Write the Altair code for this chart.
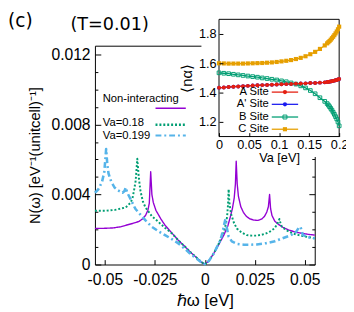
import altair as alt
import pandas as pd

FONT = "Liberation Sans"

# ---------------- main panel data (hbar*omega [eV], N(omega)) ----------------
w_non = [-0.055, -0.050, -0.046, -0.042, -0.0396, -0.036, -0.033, -0.031, -0.0297, -0.0285,
         -0.0278, -0.0271, -0.0265, -0.0258, -0.0245, -0.022, -0.0199, -0.0165, -0.0134, -0.010,
         -0.0069, -0.004, -0.0015, 0.0, 0.002, 0.0046, 0.007, 0.0095, 0.0115, 0.0127,
         0.0138, 0.0147, 0.0153, 0.0157, 0.0162, 0.0168, 0.018, 0.0193, 0.0208, 0.0225,
         0.0245, 0.0266, 0.0285, 0.0299, 0.031, 0.0318, 0.0324, 0.0329, 0.0336, 0.035,
         0.0364, 0.039, 0.0422, 0.0455, 0.0487, 0.052, 0.055]
n_non = [0.00206, 0.00207, 0.00209, 0.00216, 0.00224, 0.00235, 0.00246, 0.00262, 0.0028, 0.0031,
         0.0035, 0.0053, 0.0040, 0.00355, 0.0031, 0.0026, 0.00224, 0.0018, 0.0014, 0.00103,
         0.00067, 0.00038, 0.00012, 0.00002, 0.0002, 0.00067, 0.00115, 0.00168, 0.0022, 0.0027,
         0.0032, 0.0038, 0.0046, 0.0059, 0.0046, 0.0039, 0.0033, 0.00298, 0.00275, 0.00261,
         0.00254, 0.00252, 0.0026, 0.00276, 0.0030, 0.0033, 0.0040, 0.0032, 0.0028, 0.00248,
         0.00233, 0.00213, 0.00196, 0.00185, 0.00178, 0.00172, 0.00168]

w_18 = [-0.055, -0.050, -0.045, -0.0396, -0.0371, -0.0362, -0.0355, -0.0346, -0.0338, -0.0330,
        -0.0322, -0.031, -0.0297, -0.0265, -0.0232, -0.020, -0.0165, -0.0134, -0.010, -0.0069,
        -0.004, -0.0015, 0.0, 0.002, 0.0046, 0.007, 0.0095, 0.0105, 0.0111, 0.0116,
        0.0119, 0.0123, 0.0131, 0.0145, 0.016, 0.0185, 0.0209, 0.0235, 0.0258, 0.0285,
        0.0307, 0.0328, 0.0348, 0.0362, 0.0373, 0.038, 0.0386, 0.041, 0.0438, 0.047,
        0.0503, 0.055]
n_18 = [0.00307, 0.00307, 0.00312, 0.00326, 0.00354, 0.0038, 0.00419, 0.0048, 0.00604, 0.0049,
        0.00419, 0.0036, 0.00326, 0.00276, 0.00243, 0.0021, 0.00178, 0.0014, 0.00103, 0.00067,
        0.00038, 0.00012, 0.00002, 0.0002, 0.00067, 0.0012, 0.00187, 0.0023, 0.0027, 0.0034,
        0.0043, 0.0035, 0.0029, 0.0024, 0.00206, 0.00182, 0.00168, 0.00165, 0.00165, 0.0017,
        0.00178, 0.0019, 0.00206, 0.0023, 0.0026, 0.0023, 0.00215, 0.00195, 0.00178, 0.00168,
        0.0016, 0.0015]

w_199 = [-0.055, -0.0534, -0.0515, -0.0503, -0.0494, -0.0488, -0.0482, -0.0469, -0.0452, -0.0436,
         -0.0412, -0.0402, -0.0396, -0.0388, -0.0379, -0.0347, -0.0297, -0.0265, -0.0232, -0.0199,
         -0.0165, -0.0134, -0.010, -0.0069, -0.004, -0.0015, 0.0, 0.002, 0.0046, 0.0078,
         0.009, 0.0097, 0.0103, 0.011, 0.0119, 0.0135, 0.016, 0.0195, 0.0225, 0.026,
         0.0307, 0.035, 0.0389, 0.0425, 0.0454, 0.047, 0.0479, 0.049, 0.051, 0.055]
n_199 = [0.0041, 0.00428, 0.0047, 0.0053, 0.0066, 0.0057, 0.0052, 0.00475, 0.0044, 0.00425,
         0.0041, 0.0042, 0.0044, 0.0041, 0.0039, 0.00317, 0.00252, 0.00215, 0.0019, 0.00168,
         0.00145, 0.00122, 0.0009, 0.00057, 0.00033, 0.0001, 0.00002, 0.0002, 0.00065, 0.0014,
         0.0019, 0.0023, 0.0026, 0.0021, 0.0016, 0.00132, 0.00118, 0.00113, 0.00113, 0.00115,
         0.00122, 0.00133, 0.0015, 0.00165, 0.00182, 0.0021, 0.00215, 0.0017, 0.00158, 0.0015]

series_names = ["Non-interacting", "Va=0.18", "Va=0.199"]
series_colors = ["#9400D3", "#009E73", "#56B4E9"]

x_domain = [-0.055, 0.055]
y_domain = [0, 0.0125]
x_ticks = [-0.05, -0.025, 0, 0.025, 0.05]
y_ticks = [0, 0.004, 0.008, 0.012]
y_minor = [0, 0.001, 0.002, 0.003, 0.004, 0.005, 0.006, 0.007, 0.008, 0.009, 0.010, 0.011, 0.012]

# ---------------- inset data (Va [eV], <n_alpha>) ----------------
va = [0, 0.008, 0.016, 0.024, 0.032, 0.04, 0.048, 0.056, 0.064, 0.072, 0.08, 0.088, 0.096,
      0.104, 0.112, 0.12, 0.128, 0.136, 0.144, 0.152, 0.16, 0.168, 0.176, 0.18, 0.182, 0.184,
      0.186, 0.188, 0.19, 0.192, 0.194, 0.196, 0.198, 0.2]
n_A = [1.433, 1.435, 1.438, 1.440, 1.442, 1.444, 1.446, 1.448, 1.450, 1.451, 1.452, 1.454, 1.455,
       1.457, 1.458, 1.459, 1.461, 1.462, 1.463, 1.465, 1.466, 1.468, 1.470, 1.472, 1.473, 1.475,
       1.476, 1.478, 1.480, 1.482, 1.484, 1.486, 1.489, 1.493]
n_Ap = [1.433, 1.435, 1.438, 1.440, 1.442, 1.444, 1.446, 1.448, 1.450, 1.451, 1.452, 1.454, 1.455,
        1.457, 1.458, 1.459, 1.461, 1.462, 1.463, 1.465, 1.466, 1.468, 1.470, 1.472, 1.473, 1.475,
        1.476, 1.478, 1.480, 1.482, 1.484, 1.486, 1.489, 1.493]
n_B = [1.535, 1.532, 1.529, 1.525, 1.521, 1.517, 1.513, 1.509, 1.505, 1.500, 1.496, 1.491, 1.486,
       1.480, 1.474, 1.466, 1.458, 1.446, 1.432, 1.414, 1.392, 1.365, 1.340, 1.325, 1.315, 1.304,
       1.292, 1.280, 1.266, 1.252, 1.236, 1.220, 1.200, 1.173]
n_C = [1.600, 1.599, 1.598, 1.598, 1.598, 1.598, 1.599, 1.600, 1.601, 1.602, 1.604, 1.606, 1.609,
       1.613, 1.617, 1.622, 1.629, 1.637, 1.648, 1.662, 1.678, 1.698, 1.722, 1.736, 1.744, 1.752,
       1.761, 1.771, 1.781, 1.792, 1.804, 1.817, 1.832, 1.850]

site_names = ["A Site", "A' Site", "B Site", "C Site"]
site_colors = ["#E51E10", "#1A1AF0", "#009E73", "#E69F00"]
site_shapes = ["circle", "circle", "square", "square"]
site_filled = [True, True, False, True]

inset_x_domain = [0, 0.2]
inset_y_domain = [1.1, 1.9]
inset_x_ticks = [0, 0.05, 0.1, 0.15, 0.2]
inset_y_ticks = [1.2, 1.4, 1.6, 1.8]

# ---------------- layout (pixels) ----------------
W, H = 225, 224
INSET_L, INSET_R, INSET_T, INSET_B = 127, 250, -27, 93

df_main = pd.concat([
    pd.DataFrame({"w": w_non, "N": n_non, "series": series_names[0], "i": range(len(w_non))}),
    pd.DataFrame({"w": w_18, "N": n_18, "series": series_names[1], "i": range(len(w_18))}),
    pd.DataFrame({"w": w_199, "N": n_199, "series": series_names[2], "i": range(len(w_199))}),
], ignore_index=True)

site_values = [n_A, n_Ap, n_B, n_C]
df_inset = pd.concat([
    pd.DataFrame({"va": va, "n": vals, "site": s}) for s, vals in zip(site_names, site_values)
], ignore_index=True)

one = pd.DataFrame({"a": [0]})

xs = alt.Scale(domain=x_domain, nice=False, zero=False)
ys = alt.Scale(domain=y_domain, nice=False, zero=False)
ixs = alt.Scale(domain=inset_x_domain, range=[INSET_L, INSET_R], nice=False, zero=False)
iys = alt.Scale(domain=inset_y_domain, range=[INSET_B, INSET_T], nice=False, zero=False)

common_axis = dict(grid=False, labelFont=FONT, titleFont=FONT, labelColor="black",
                   titleColor="black", titleFontWeight="normal", labelFlush=False,
                   labelOverlap=False, tickColor="black")

major_test = "abs(datum.value * 250 - round(datum.value * 250)) < 0.01"

# main lines with labelled axes
lines_main = alt.Chart(df_main).mark_line(strokeCap="butt", strokeJoin="round").encode(
    x=alt.X("w:Q", scale=xs, axis=alt.Axis(
        orient="bottom", values=x_ticks, labelExpr="toString(datum.value)", ticks=False,
        tickSize=0, domain=False, labelFontSize=16, labelPadding=7, title="ℏω [eV]",
        titleFontSize=17, titlePadding=6, **common_axis)),
    y=alt.Y("N:Q", scale=ys, axis=alt.Axis(
        orient="left", values=y_ticks, labelExpr="toString(datum.value)", ticks=False,
        tickSize=0, domain=False, labelFontSize=16, labelPadding=5,
        title="N(ω) [eV⁻¹(unitcell)⁻¹]", titleFontSize=15, titlePadding=9, **common_axis)),
    color=alt.Color("series:N", scale=alt.Scale(domain=series_names, range=series_colors), legend=None),
    strokeDash=alt.StrokeDash("series:N", scale=alt.Scale(
        domain=series_names, range=[[1, 0], [2, 2], [6, 3, 2, 3]]), legend=None),
    strokeWidth=alt.StrokeWidth("series:N", scale=alt.Scale(
        domain=series_names, range=[1.4, 2.6, 2.0]), legend=None),
    order="i:Q",
)


def tick_layer(df, xf, yf, xscale, yscale, xaxis, yaxis):
    return alt.Chart(df).mark_point(opacity=0).encode(
        x=alt.X(xf, scale=xscale, axis=xaxis),
        y=alt.Y(yf, scale=yscale, axis=yaxis),
    )


tick_axis = dict(labels=False, domain=False, grid=False, title="", tickColor="black", ticks=True)

ticks_bottom = tick_layer(df_main, "w:Q", "N:Q", xs, ys,
                          alt.Axis(orient="top", offset=-H, values=x_ticks, tickSize=5, **tick_axis), None)
ticks_left = tick_layer(df_main, "w:Q", "N:Q", xs, ys, None,
                        alt.Axis(orient="right", offset=-W, values=y_minor,
                                 tickSize={"condition": {"test": major_test, "value": 6}, "value": 3},
                                 **tick_axis))
ticks_right = tick_layer(df_main, "w:Q", "N:Q", xs, ys, None,
                         alt.Axis(orient="left", offset=-W, values=y_minor,
                                  tickSize={"condition": {"test": major_test, "value": 6}, "value": 3},
                                  **tick_axis))

# main legend (text on the left, sample on the right)
leg_rows = [(55, 64), (79.5, 81), (92, 92)]
leg_dash = [[1, 0], [2, 2], [6, 3, 2, 3]]
leg_width = [1.4, 2.6, 2.0]
main_legend = []
for name, col, (ty, ly), dash, sw in zip(series_names, series_colors, leg_rows, leg_dash, leg_width):
    main_legend.append(alt.Chart(one).mark_text(
        align="left", baseline="middle", font=FONT, fontSize=11.5, color="black").encode(
        x=alt.value(8), y=alt.value(ty), text=alt.value(name)))
    main_legend.append(alt.Chart(one).mark_rule(
        color=col, strokeDash=dash, strokeWidth=sw, strokeCap="butt").encode(
        x=alt.value(62), x2=alt.value(93), y=alt.value(ly)))

# white area behind the inset (covers frame of main panel)
white_box = alt.Chart(one).mark_rect(color="white").encode(
    x=alt.value(109), x2=alt.value(262), y=alt.value(-45), y2=alt.value(114))

# inset frame with labelled axes
inset_frame_df = pd.DataFrame({"x0": [inset_x_domain[0]], "x1": [inset_x_domain[1]],
                               "y0": [inset_y_domain[0]], "y1": [inset_y_domain[1]]})
inset_frame = alt.Chart(inset_frame_df).mark_rect(fill="white", stroke="black", strokeWidth=1).encode(
    x=alt.X("x0:Q", scale=ixs, axis=alt.Axis(
        orient="bottom", offset=-(H - INSET_B), values=inset_x_ticks, labelExpr="toString(datum.value)",
        ticks=False, tickSize=0, domain=False, labelFontSize=13, labelPadding=2, title="Va [eV]",
        titleFontSize=13, titlePadding=1, zindex=1, **common_axis)),
    x2="x1:Q",
    y=alt.Y("y0:Q", scale=iys, axis=alt.Axis(
        orient="left", offset=-INSET_L, values=inset_y_ticks, labelExpr="toString(datum.value)",
        ticks=False, tickSize=0, domain=False, labelFontSize=13, labelPadding=3, title="⟨nα⟩",
        titleFontSize=15, titlePadding=4, zindex=1, **common_axis)),
    y2="y1:Q",
)

inset_ticks = tick_layer(df_inset, "va:Q", "n:Q", ixs, iys,
                         alt.Axis(orient="top", offset=-INSET_B, values=inset_x_ticks, tickSize=4,
                                  zindex=1, **tick_axis),
                         alt.Axis(orient="right", offset=-(W - INSET_L), values=inset_y_ticks, tickSize=4,
                                  zindex=1, **tick_axis))

inset_layers = []
for k in [1, 2, 0, 3]:
    sub = df_inset[df_inset["site"] == site_names[k]]
    col = site_colors[k]
    inset_layers.append(alt.Chart(sub).mark_line(color=col, strokeWidth=1.3).encode(
        x=alt.X("va:Q", scale=ixs, axis=None), y=alt.Y("n:Q", scale=iys, axis=None)))
    if site_filled[k]:
        pm = alt.Chart(sub).mark_point(shape=site_shapes[k], filled=True, color=col,
                                       size=16 if site_shapes[k] == "circle" else 18, opacity=1)
    else:
        pm = alt.Chart(sub).mark_point(shape=site_shapes[k], filled=False, color=col,
                                       size=14, strokeWidth=1, opacity=1)
    inset_layers.append(pm.encode(
        x=alt.X("va:Q", scale=ixs, axis=None), y=alt.Y("n:Q", scale=iys, axis=None)))

# inset legend
inset_leg_y = [47.5, 60, 73, 85.5]
inset_legend = []
for k, yy in enumerate(inset_leg_y):
    col = site_colors[k]
    inset_legend.append(alt.Chart(one).mark_text(
        align="right", baseline="middle", font=FONT, fontSize=11.5, color="black").encode(
        x=alt.value(178), y=alt.value(yy), text=alt.value(site_names[k])))
    inset_legend.append(alt.Chart(one).mark_rule(color=col, strokeWidth=1.3).encode(
        x=alt.value(181), x2=alt.value(208), y=alt.value(yy)))
    if site_filled[k]:
        mk = alt.Chart(one).mark_point(shape=site_shapes[k], filled=True, color=col, size=18, opacity=1)
    else:
        mk = alt.Chart(one).mark_point(shape=site_shapes[k], filled=False, color=col, size=16,
                                       strokeWidth=1, opacity=1)
    inset_legend.append(mk.encode(x=alt.value(194.5), y=alt.value(yy)))

# panel label and title
label_c = alt.Chart(one).mark_text(font="DejaVu Sans", fontSize=19, color="black",
                                   align="left", baseline="middle").encode(
    x=alt.value(-89), y=alt.value(-25), text=alt.value("(c)"))
label_t = alt.Chart(one).mark_text(font="DejaVu Sans", fontSize=18, color="black",
                                   align="center", baseline="middle").encode(
    x=alt.value(15), y=alt.value(-21), text=alt.value("(T=0.01)"))

chart = alt.layer(
    ticks_bottom, ticks_left, ticks_right, lines_main, *main_legend,
    white_box, inset_frame, inset_ticks, *inset_layers, *inset_legend,
    label_c, label_t,
).resolve_scale(
    x="independent", y="independent"
).properties(
    width=W, height=H,
    padding={"left": 89, "top": 35, "right": 32, "bottom": 45},
    autosize=alt.AutoSizeParams(type="none"),
    background="white",
).configure_view(
    stroke="black", strokeWidth=1
)

chart.save("out.html", embed_options={"renderer": "svg", "actions": False})
